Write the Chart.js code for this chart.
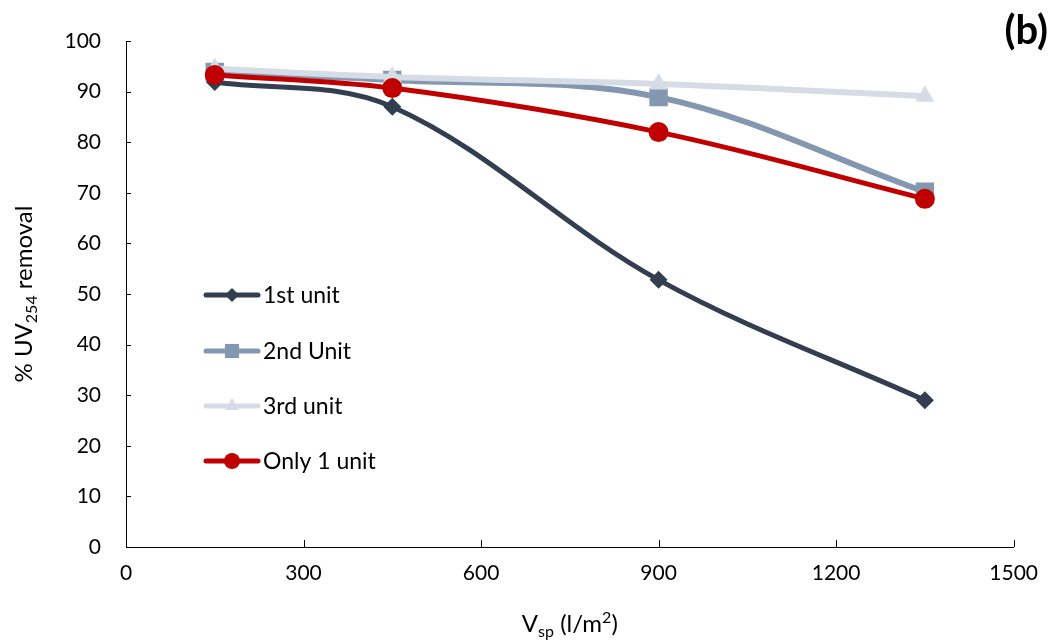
<!DOCTYPE html>
<html>
<head>
<meta charset="utf-8">
<script src="https://cdn.jsdelivr.net/npm/chart.js@4"></script>
<style>
  body { margin: 0; background: #fff; }
  #wrap { width: 1052px; height: 643px; }
</style>
</head>
<body>
<div id="wrap"><canvas id="uvChart" width="1052" height="643"></canvas></div>
<script>
// Data
const volumes = [150, 450, 900, 1350];
const unit1 = [91.9, 87, 52.8, 29];
const unit2 = [93.9, 92.3, 88.9, 70.2];
const unit3 = [94.5, 92.9, 91.5, 89.1];
const onlyOne = [93.3, 90.7, 82, 68.8];
const xTicks = [0, 300, 600, 900, 1200, 1500];
const yTicks = [0, 10, 20, 30, 40, 50, 60, 70, 80, 90, 100];
const seriesNames = ["1st unit", "2nd Unit", "3rd unit", "Only 1 unit"];

const FONT = "Lato, 'Open Sans', sans-serif";

function toPoints(values) {
    return volumes.map(function (v, i) { return { x: v, y: values[i] }; });
}

function drawMarker(ctx, style, x, y, r, color) {
    ctx.save();
    ctx.fillStyle = color;
    ctx.beginPath();
    if (style === "rectRot") {
        ctx.moveTo(x, y - r); ctx.lineTo(x + r, y); ctx.lineTo(x, y + r); ctx.lineTo(x - r, y);
    } else if (style === "rect") {
        ctx.rect(x - r * 0.707, y - r * 0.707, r * 1.414, r * 1.414);
    } else if (style === "triangle") {
        ctx.moveTo(x, y - r); ctx.lineTo(x + r * 0.866, y + r * 0.5); ctx.lineTo(x - r * 0.866, y + r * 0.5);
    } else {
        ctx.arc(x, y, r, 0, Math.PI * 2);
    }
    ctx.closePath();
    ctx.fill();
    ctx.restore();
}

// Inward tick marks, axis titles, inside legend and panel label
const decorations = {
    id: "decorations",
    afterDraw: function (chart) {
        const ctx = chart.ctx;
        const area = chart.chartArea;
        const xs = chart.scales.x, ys = chart.scales.y;

        ctx.save();
        ctx.strokeStyle = "#000";
        ctx.lineWidth = 1;
        xTicks.forEach(function (t) {
            const px = Math.round(xs.getPixelForValue(t)) + 0.5;
            ctx.beginPath(); ctx.moveTo(px, area.bottom); ctx.lineTo(px, area.bottom - 7); ctx.stroke();
        });
        yTicks.forEach(function (t) {
            const py = Math.round(ys.getPixelForValue(t)) + 0.5;
            ctx.beginPath(); ctx.moveTo(area.left, py); ctx.lineTo(area.left + 5, py); ctx.stroke();
        });

        // y-axis title with subscript
        ctx.fillStyle = "#000";
        ctx.translate(32, (area.top + area.bottom) / 2);
        ctx.rotate(-Math.PI / 2);
        const big = "24px " + FONT, small = "16px " + FONT;
        const parts = [["% UV", big, 0], ["254", small, 5], [" removal", big, 0]];
        let w = 0;
        parts.forEach(function (p) { ctx.font = p[1]; w += ctx.measureText(p[0]).width; });
        let cx = -w / 2;
        ctx.textBaseline = "alphabetic";
        parts.forEach(function (p) {
            ctx.font = p[1];
            ctx.fillText(p[0], cx, p[2]);
            cx += ctx.measureText(p[0]).width;
        });
        ctx.restore();

        // x-axis title
        ctx.save();
        ctx.fillStyle = "#000";
        const xparts = [["V", big, 0], ["sp", small, 5], [" (l/m", big, 0], ["2", small, -9], [")", big, 0]];
        w = 0;
        xparts.forEach(function (p) { ctx.font = p[1]; w += ctx.measureText(p[0]).width; });
        cx = (area.left + area.right) / 2 - w / 2;
        xparts.forEach(function (p) {
            ctx.font = p[1];
            ctx.fillText(p[0], cx, 632 + p[2]);
            cx += ctx.measureText(p[0]).width;
        });

        // panel label
        ctx.font = "bold 40px " + FONT;
        ctx.textAlign = "right";
        ctx.fillText("(b)", 1048, 44);
        ctx.restore();

        // legend inside the plot
        ctx.save();
        const rowY = [295, 351, 406, 461];
        const legendR = [7, 10, 8, 8];
        chart.data.datasets.forEach(function (ds, i) {
            const y = rowY[i];
            ctx.strokeStyle = ds.borderColor;
            ctx.lineWidth = 5;
            ctx.lineCap = "round";
            ctx.beginPath(); ctx.moveTo(206, y); ctx.lineTo(258, y); ctx.stroke();
            drawMarker(ctx, ds.pointStyle, 232, y, legendR[i], ds.borderColor);
            ctx.fillStyle = "#000";
            ctx.font = "23px " + FONT;
            ctx.textBaseline = "middle";
            ctx.fillText(seriesNames[i], 263, y + 1);
        });
        ctx.restore();
    }
};

const ctx = document.getElementById("uvChart");

new Chart(ctx, {
    type: "line",
    data: {
        datasets: [
            { label: seriesNames[0], data: toPoints(unit1), borderColor: "#333F50", backgroundColor: "#333F50",
              pointStyle: "rectRot", pointRadius: 9, borderWidth: 5, pointBorderWidth: 0, order: 4 },
            { label: seriesNames[1], data: toPoints(unit2), borderColor: "#8497B0", backgroundColor: "#8497B0",
              pointStyle: "rect", pointRadius: 13, borderWidth: 6, pointBorderWidth: 0, order: 3 },
            { label: seriesNames[2], data: toPoints(unit3), borderColor: "#D6DCE5", backgroundColor: "#D6DCE5",
              pointStyle: "triangle", pointRadius: 11, borderWidth: 6, pointBorderWidth: 0, order: 2 },
            { label: seriesNames[3], data: toPoints(onlyOne), borderColor: "#C00000", backgroundColor: "#C00000",
              pointStyle: "circle", pointRadius: 10, borderWidth: 5, pointBorderWidth: 0, order: 1 }
        ]
    },
    options: {
        responsive: false,
        animation: false,
        layout: { padding: { top: 41, right: 34, left: 0, bottom: 0 } },
        elements: { line: { tension: 0.35 }, point: { borderWidth: 0, hoverRadius: 0 } },
        plugins: {
            legend: { display: false },
            tooltip: { enabled: false }
        },
        scales: {
            x: {
                type: "linear",
                min: 0,
                max: 1500,
                afterBuildTicks: function (axis) { axis.ticks = xTicks.map(function (v) { return { value: v }; }); },
                afterFit: function (axis) { axis.height = 96; },
                grid: { display: false, drawTicks: false },
                border: { display: true, color: "#000", width: 1 },
                ticks: { color: "#000", font: { family: FONT, size: 21 }, padding: 14, maxRotation: 0,
                         callback: function (v) { return String(v); } }
            },
            y: {
                min: 0,
                max: 100,
                afterBuildTicks: function (axis) { axis.ticks = yTicks.map(function (v) { return { value: v }; }); },
                afterFit: function (axis) { axis.width = 126; },
                grid: { display: false, drawTicks: false },
                border: { display: true, color: "#000", width: 1 },
                ticks: { color: "#000", font: { family: FONT, size: 21 }, padding: 25,
                         callback: function (v) { return String(v); } }
            }
        }
    },
    plugins: [decorations]
});
</script>
</body>
</html>
